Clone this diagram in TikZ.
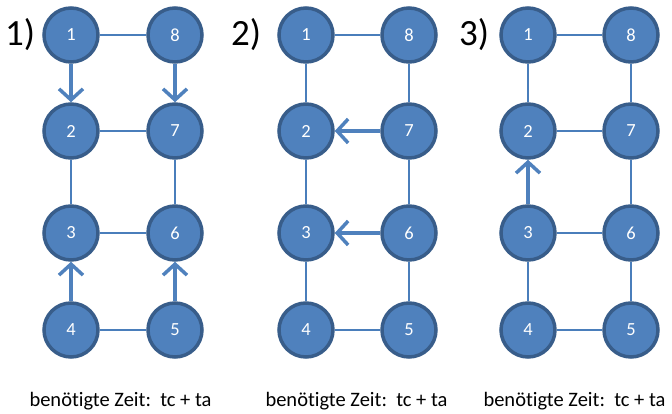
\documentclass[tikz,border=0pt]{standalone}
\usepackage{fontspec}
\setmainfont{Carlito}[Ligatures=NoCommon]
\usetikzlibrary{arrows.meta}
\definecolor{nodefill}{HTML}{4F81BD}
\definecolor{nodeborder}{HTML}{385D8A}
\definecolor{edgecol}{HTML}{4A7EBB}
\begin{document}
\begin{tikzpicture}[x=1pt,y=-1pt,
  vnode/.style={circle,fill=nodefill,draw=nodeborder,line width=3.5pt,minimum size=54pt,inner sep=0pt,text=white,font=\fontsize{18.5}{18.5}\selectfont},
  thinedge/.style={draw=edgecol,line width=1.3pt},
  arrowedge/.style={draw=nodefill,line width=3.5pt,-{Straight Barb[length=11pt,width=24pt]}},
  plabel/.style={font=\fontsize{37}{37}\selectfont,inner sep=0pt},
  ctext/.style={font=\fontsize{20.5}{20.5}\selectfont,inner sep=0pt,anchor=base}]
\useasboundingbox (0,0) rectangle (672,414);
% panel labels
\node[plabel] (l1) at (20,35) {1)};
\node[plabel] (l2) at (246,35) {2)};
\node[plabel] (l3) at (474,35) {3)};
% nodes
\foreach \p/\xa/\xb in {a/71/175, b/306/409, c/528/631}{
  \node[vnode] (\p1) at (\xa,35) {1};
  \node[vnode] (\p8) at (\xb,35) {8};
  \node[vnode] (\p2) at (\xa,131) {2};
  \node[vnode] (\p7) at (\xb,131) {7};
  \node[vnode] (\p3) at (\xa,233) {3};
  \node[vnode] (\p6) at (\xb,233) {6};
  \node[vnode] (\p4) at (\xa,330) {4};
  \node[vnode] (\p5) at (\xb,330) {5};
}
% panel 1
\draw[thinedge] (a1) -- (a8);
\draw[thinedge] (a2) -- (a7);
\draw[thinedge] (a3) -- (a6);
\draw[thinedge] (a4) -- (a5);
\draw[thinedge] (a2) -- (a3);
\draw[thinedge] (a7) -- (a6);
\draw[arrowedge] (a1) -- (a2);
\draw[arrowedge] (a8) -- (a7);
\draw[arrowedge] (a4) -- (a3);
\draw[arrowedge] (a5) -- (a6);
% panel 2
\draw[thinedge] (b1) -- (b8);
\draw[thinedge] (b4) -- (b5);
\draw[thinedge] (b1) -- (b2);
\draw[thinedge] (b8) -- (b7);
\draw[thinedge] (b2) -- (b3);
\draw[thinedge] (b7) -- (b6);
\draw[thinedge] (b3) -- (b4);
\draw[thinedge] (b6) -- (b5);
\draw[arrowedge] (b7) -- (b2);
\draw[arrowedge] (b6) -- (b3);
% panel 3
\draw[thinedge] (c1) -- (c8);
\draw[thinedge] (c2) -- (c7);
\draw[thinedge] (c3) -- (c6);
\draw[thinedge] (c4) -- (c5);
\draw[thinedge] (c1) -- (c2);
\draw[thinedge] (c8) -- (c7);
\draw[thinedge] (c7) -- (c6);
\draw[thinedge] (c3) -- (c4);
\draw[thinedge] (c6) -- (c5);
\draw[arrowedge] (c3) -- (c2);
% captions
\node[ctext] (t1) at (120.5,406) {benötigte Zeit:\ \ tc + ta};
\node[ctext] (t2) at (356.5,406) {benötigte Zeit:\ \ tc + ta};
\node[ctext] (t3) at (574.5,406) {benötigte Zeit:\ \ tc + ta};
\end{tikzpicture}
\end{document}
